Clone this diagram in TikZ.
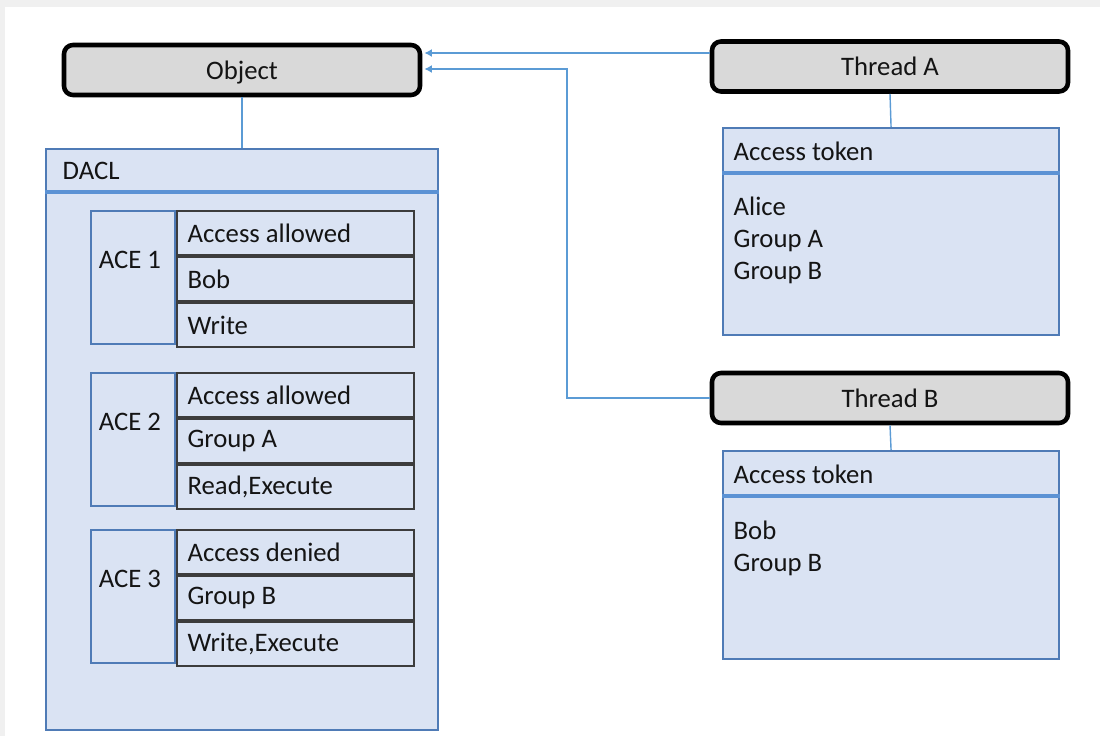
\documentclass[tikz,border=0pt]{standalone}
\usepackage{fontspec}
\setmainfont{Carlito}
\usetikzlibrary{calc,positioning,arrows.meta}

\definecolor{pageGray}{RGB}{240,240,240}
\definecolor{threadFill}{RGB}{217,217,217}
\definecolor{boxFill}{RGB}{218,227,243}
\definecolor{boxLine}{RGB}{79,123,182}
\definecolor{headLine}{RGB}{91,146,212}
\definecolor{linkBlue}{RGB}{91,155,213}
\definecolor{rowLine}{RGB}{60,60,60}
\definecolor{ink}{RGB}{20,20,20}

\tikzset{
	txt/.style={font=\fontsize{7.6}{9.1}\selectfont, text=ink},
	thread/.style={txt, draw=black, line width=1.3pt, fill=threadFill, rounded corners=0.09cm, minimum width=3.56cm, minimum height=0.50cm, inner sep=0, text depth=0pt},
	listbox/.style={draw=boxLine, line width=0.6pt, fill=boxFill, inner sep=0},
	headline/.style={draw=headLine, line width=0.9pt},
	acecell/.style={draw=boxLine, line width=0.5pt, fill=boxFill, minimum width=0.84cm, minimum height=1.33cm, inner sep=0},
	acerow/.style={txt, draw=rowLine, line width=0.5pt, fill=boxFill, minimum width=2.37cm, minimum height=0.443cm, text width=2.15cm, inner xsep=0.11cm, inner ysep=0, align=flush left},
	link/.style={draw=linkBlue, line width=0.4pt},
	linkarrow/.style={-{Latex[length=0.75mm,width=0.8mm]}, shorten >=0.6pt}
}

\begin{document}
\begin{tikzpicture}[x=1cm, y=-1cm]
		%%%%% START %%%%%
		
		\useasboundingbox (0,0) rectangle (11,7.36);
		\fill[pageGray] (0,0) rectangle (11,7.36);
		\fill[white] (0.05,0.07) rectangle (11,7.36);
		
		% threads and object
		\node[thread] (obj) at (2.42,0.70) {Object};
		\node[thread] (thA) at (8.90,0.665) {Thread A};
		\node[thread] (thB) at (8.90,3.98) {Thread B};
		
		% DACL
		\node[listbox, minimum width=3.92cm, minimum height=5.81cm] (dacl) at (2.42,4.395) {};
		\node[txt, anchor=west, inner sep=0] (dacltitle) at (0.62,1.71) {DACL};
		\draw[headline] ($(dacl.north west)+(0,0.44)$) -- ($(dacl.north east)+(0,0.44)$);
		
		\foreach \i/\top/\perm/\who/\rights in {1/2.10/Access allowed/Bob/Write, 2/3.72/Access allowed/Group A/Read{,}Execute, 3/5.29/Access denied/Group B/Write{,}Execute} {
			\node[acecell, anchor=north west] (ace\i) at (0.90,\top) {};
			\node[txt, inner sep=0] (acelbl\i) at ($(ace\i.north)+(-0.03,0.50)$) {ACE \i};
			\node[acerow, anchor=north west] (perm\i) at (ace\i.north east) {\perm};
			\node[acerow, anchor=north] (who\i) at (perm\i.south) {\who};
			\node[acerow, anchor=north] (rights\i) at (who\i.south) {\rights};
		}
		
		% access tokens
		\node[listbox, anchor=north west, minimum width=3.36cm, minimum height=2.07cm] (tokA) at (7.22,1.27) {};
		\node[txt, anchor=west, inner sep=0] (tokAtitle) at (7.33,1.51) {Access token};
		\draw[headline] ($(tokA.north west)+(0,0.46)$) -- ($(tokA.north east)+(0,0.46)$);
		\node[txt, anchor=north west, inner sep=0, align=left] (tokAlist) at (7.33,1.96) {Alice\\Group A\\Group B};
		
		\node[listbox, anchor=north west, minimum width=3.36cm, minimum height=2.08cm] (tokB) at (7.22,4.50) {};
		\node[txt, anchor=west, inner sep=0] (tokBtitle) at (7.33,4.74) {Access token};
		\draw[headline] ($(tokB.north west)+(0,0.46)$) -- ($(tokB.north east)+(0,0.46)$);
		\node[txt, anchor=north west, inner sep=0, align=left] (tokBlist) at (7.33,5.20) {Bob\\Group B};
		
		% connectors
		\draw[link] (obj.south) -- (dacl.north);
		\draw[link] (thA.south) -- (tokA.north);
		\draw[link] (thB.south) -- (tokB.north);
		
		\coordinate (fromA) at ($(thA.west)+(0,-0.135)$);
		\draw[link, linkarrow] (fromA) -- (obj.east |- fromA);
		\coordinate (bendB) at (5.67,0.69);
		\draw[link, linkarrow] (thB.west) -| (bendB) -- (obj.east |- bendB);
		
		%%%%% END %%%%%
	\end{tikzpicture}
\end{document}
